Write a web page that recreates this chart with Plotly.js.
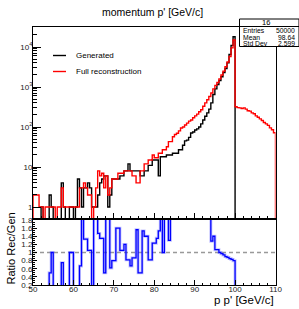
<!DOCTYPE html>
<html><head><meta charset="utf-8">
<script src="https://cdn.plot.ly/plotly-3.0.1.min.js"></script>
<style>html,body{margin:0;padding:0;background:#fff;}#chart{width:299px;height:309px;}</style>
</head><body><div id="chart"></div>
<script>
// ---------------- data ----------------
const binLow = 50;          // GeV/c
const binWidth = 0.5;       // GeV/c
const generated = [
  0,0,0,0,1,0,0,0,2,1,
  0,0,0,0,4,1,0,0,1,1,
  0,1,5,3,1,3,3,4,3,1,
  1,1,2,4,5,6,6,1,2,5,
  5,5,5,6,6,8,8,12,8,8,
  8,8,8,6,6,8,8,11,11,15,
  15,15,6,18,18,18,20,20,20,22,
  22,22,27,27,35,45,47,55,71,75,
  84,90,100,120,150,185,225,280,400,650,
  900,1150,1450,1800,2300,2900,4000,6500,11000,18000,
  0,0,0,0,0,0,0,0,0,0,
  0,0,0,0,0,0,0,0,0,0
];
const reconstructed = [
  2,2,2,1,1,0,1,1,1,1,
  1,0,1,1,3,1,1,1,1,1,
  1,1,1,3,3,4,3,2,2,0,
  1,3,8,6,7,3,6,2,3,5,
  5,5,7,7,7,8,8,8,8,6,
  6,4,4,8,8,12,12,15,15,20,
  17,17,22,22,27,27,32,43,43,57,
  65,70,80,94,100,112,125,140,150,170,
  190,210,240,270,330,400,480,580,710,900,
  1100,1300,1600,2000,2500,3200,4200,5800,9500,15000,
  320,305,300,290,300,280,255,250,225,215,
  190,175,160,145,130,120,110,95,85,72
];
const ratio = [
  0,0,0,0,0,0,0,0,0.5,1.0,
  0,0,0,0,0.75,0,0,0,1.0,1.0,
  0,0,0,0.67,2.2,1.33,1.33,1.05,1.05,0,
  2.2,2.2,1.47,1.35,1.35,0.5,2.2,2.2,0.62,0.8,
  0.8,1.6,1.6,1.05,1.05,1.2,0.82,0.82,0.67,0.87,
  0.87,1.56,0.5,0.5,1.53,1.4,1.4,0.82,0.82,1.23,
  1.23,1.35,1.53,2.2,1.0,2.2,2.2,1.3,2.2,2.2,
  2.2,2.2,2.2,2.2,2.2,2.2,2.2,2.2,2.2,2.2,
  2.2,2.2,2.2,2.2,2.2,2.2,2.2,2.2,1.28,1.4,
  1.07,1.07,1.0,0.97,0.94,0.9,0.88,0.85,0.83,0.8,
  0,0,0,0,0,0,0,0,0,0,
  0,0,0,0,0,0,0,0,0,0
];
const logTickVals = [1, 10, 100, 1000, 10000];
const logTickText = ['1', '10', '10<sup>2</sup>', '10<sup>3</sup>', '10<sup>4</sup>'];
const ratioTickVals = [0.2, 0.4, 0.6, 0.8, 1, 1.2, 1.4, 1.6, 1.8];
const ratioTickText = ['0.2', '0.4', '0.6', '0.8', '1', '1.2', '1.4', '1.6', '1.8'];
const legendLabels = ['Generated', 'Full reconstruction'];
const statsTitle = '16';
const statsRows = [['Entries', '50000'], ['Mean', '98.64'], ['Std Dev', '2.599']];

// ---------------- helpers ----------------
const W = 299, H = 309;
const px = x => x / W;
const py = y => 1 - y / H;
const FONT = 'Liberation Sans, Arial, Helvetica, sans-serif';

// histogram outline as ROOT draws it (step line, from the floor up and back down)
function histTrace(vals, floor, color, xa, ya, width) {
  const xs = [binLow], ys = [floor];
  vals.forEach((v, i) => { xs.push(binLow + i * binWidth); ys.push(v > 0 ? v : floor); });
  const xEnd = binLow + vals.length * binWidth;
  xs.push(xEnd); ys.push(ys[ys.length - 1]);
  xs.push(xEnd); ys.push(floor);
  return {x: xs, y: ys, type: 'scatter', mode: 'lines', xaxis: xa, yaxis: ya,
          line: {shape: 'hv', color: color, width: width}, hoverinfo: 'skip', showlegend: false};
}

const traces = [
  histTrace(generated, 0.1, '#000000', 'x', 'y', 1.4),
  histTrace(reconstructed, 0.1, '#ff0000', 'x', 'y', 1.4),
  histTrace(ratio, 0, 'rgba(90,90,255,0.35)', 'x2', 'y2', 3),
  histTrace(ratio, 0, '#0000ff', 'x2', 'y2', 1.3)
];

const minorLog = [];
[1, 10, 100, 1000, 10000].forEach(d => { for (let k = 2; k <= 9; k++) minorLog.push(k * d); });

const xDomain = [px(33), px(275.5)];
const axCommon = {showline: true, linecolor: '#000', linewidth: 1, mirror: true,
  ticks: 'inside', tickcolor: '#000', showgrid: false, zeroline: false, fixedrange: true,
  tickfont: {family: FONT, size: 8, color: '#222'}};

const layout = {
  width: W, height: H, margin: {l: 0, r: 0, t: 0, b: 0},
  paper_bgcolor: '#fff', plot_bgcolor: '#fff', showlegend: false,
  xaxis: Object.assign({}, axCommon, {domain: xDomain, anchor: 'y', range: [50, 110],
    tickmode: 'linear', tick0: 50, dtick: 10, ticklen: 5, showticklabels: false,
    minor: {dtick: 2, ticklen: 2.5, ticks: 'inside', tickcolor: '#000'}}),
  yaxis: Object.assign({}, axCommon, {domain: [py(218), py(27)], anchor: 'x', type: 'log',
    range: [-0.275, 4.5], tickmode: 'array', tickvals: logTickVals, ticktext: logTickText,
    ticklen: 8, ticklabelstandoff: -2,
    minor: {tickmode: 'array', tickvals: minorLog, ticklen: 4, ticks: 'inside', tickcolor: '#000'}}),
  xaxis2: Object.assign({}, axCommon, {domain: xDomain, anchor: 'y2', range: [50, 110],
    tickmode: 'linear', tick0: 50, dtick: 10, ticklen: 5, ticklabelstandoff: -4,
    minor: {dtick: 2, ticklen: 2.5, ticks: 'inside', tickcolor: '#000'}}),
  yaxis2: Object.assign({}, axCommon, {domain: [py(285), py(220)], anchor: 'x2',
    range: [0.2, 1.8], tickmode: 'array', tickvals: ratioTickVals, ticktext: ratioTickText,
    ticklen: 4, ticklabelstandoff: -2,
    minor: {dtick: 0.05, ticklen: 2, ticks: 'inside', tickcolor: '#000'}}),
  shapes: [
    {type: 'line', xref: 'x2', yref: 'y2', x0: 50, x1: 110, y0: 1, y1: 1,
     line: {color: '#999', width: 1.3, dash: '4px,3px'}, layer: 'below'},
    {type: 'line', xref: 'paper', yref: 'paper', x0: px(53), x1: px(66), y0: py(55.5), y1: py(55.5),
     line: {color: '#000', width: 1.4}},
    {type: 'line', xref: 'paper', yref: 'paper', x0: px(53), x1: px(66), y0: py(71.5), y1: py(71.5),
     line: {color: '#ff0000', width: 1.4}},
    {type: 'rect', xref: 'paper', yref: 'paper', x0: px(239.5), x1: px(299), y0: py(46.5), y1: py(19),
     fillcolor: '#fff', line: {color: '#000', width: 1}, layer: 'above'},
    {type: 'line', xref: 'paper', yref: 'paper', x0: px(239.5), x1: px(299), y0: py(26.5), y1: py(26.5),
     line: {color: '#000', width: 1}, layer: 'above'}
  ],
  annotations: [
    {text: "momentum p' [GeV/c]", xref: 'paper', yref: 'paper', x: px(152), y: py(12),
     xanchor: 'center', yanchor: 'middle', showarrow: false, font: {family: FONT, size: 10.5, color: '#000'}},
    {text: legendLabels[0], xref: 'paper', yref: 'paper', x: px(74), y: py(55.5),
     xanchor: 'left', yanchor: 'middle', showarrow: false, font: {family: FONT, size: 8, color: '#000'}},
    {text: legendLabels[1], xref: 'paper', yref: 'paper', x: px(74), y: py(71.5),
     xanchor: 'left', yanchor: 'middle', showarrow: false, font: {family: FONT, size: 8, color: '#000'}},
    {text: statsTitle, xref: 'paper', yref: 'paper', x: px(266), y: py(22.5),
     xanchor: 'center', yanchor: 'middle', showarrow: false, font: {family: FONT, size: 7.5, color: '#000'}},
    {text: "p p' [GeV/c]", xref: 'paper', yref: 'paper', x: px(276), y: py(300),
     xanchor: 'right', yanchor: 'middle', showarrow: false, font: {family: FONT, size: 11.5, color: '#000'}},
    {text: 'Ratio Rec/Gen', xref: 'paper', yref: 'paper', x: px(10.5), y: py(249), textangle: -90,
     xanchor: 'center', yanchor: 'middle', showarrow: false, font: {family: FONT, size: 11, color: '#000'}}
  ]
};
statsRows.forEach((r, i) => {
  const yy = py(30.5 + i * 6.5);
  layout.annotations.push({text: r[0], xref: 'paper', yref: 'paper', x: px(241), y: yy,
    xanchor: 'left', yanchor: 'middle', showarrow: false, font: {family: FONT, size: 6.8, color: '#000'}});
  layout.annotations.push({text: r[1], xref: 'paper', yref: 'paper', x: px(296.5), y: yy,
    xanchor: 'right', yanchor: 'middle', showarrow: false, font: {family: FONT, size: 6.8, color: '#000'}});
});

Plotly.newPlot('chart', traces, layout, {displayModeBar: false, staticPlot: true});
</script></body></html>
